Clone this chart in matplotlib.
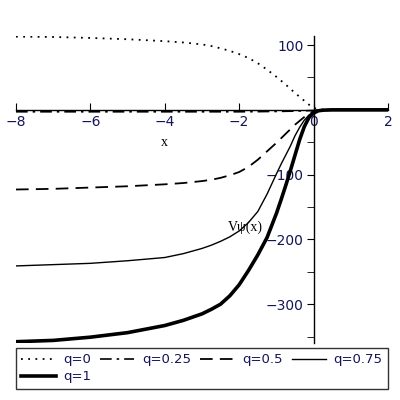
import numpy as np
import matplotlib
matplotlib.use("Agg")
import matplotlib.pyplot as plt
from matplotlib.ticker import MultipleLocator

# sample points
x = [-8, -7, -6, -5, -4, -3.5, -3, -2.75, -2.5, -2.25, -2, -1.75, -1.5, -1.25, -1,
     -0.875, -0.75, -0.625, -0.5, -0.375, -0.25, -0.125, 0, 0.125, 0.25, 0.5, 1, 1.5, 2]
v_q0 = [113, 112.5, 111, 109, 106, 104, 101, 98.5, 95, 91, 86, 80, 72, 62, 51,
        45, 39, 32.5, 26, 20, 14, 8, 3, 1, 0.3, 0, 0, 0, 0]
v_q025 = [-3, -3, -3, -3, -3, -3, -3, -3, -3, -3, -3, -2.9, -2.8, -2.6, -2.5,
          -2.4, -2.2, -2.1, -2, -1.8, -1.5, -1.2, -1, -0.5, -0.2, 0, 0, 0, 0]
v_q05 = [-123, -122, -120, -118, -115, -113, -110, -108, -105, -101, -96, -88, -77, -64, -51,
         -44, -37, -30, -23, -17, -11, -6, -2, -0.5, -0.2, 0, 0, 0, 0]
v_q075 = [-241, -239, -237, -233, -228, -222, -214, -209, -203, -196, -187, -174, -157, -130, -99,
          -84, -70, -56, -40, -27, -16, -8, -3, -1, -0.3, 0, 0, 0, 0]
v_q1 = [-358, -356, -351, -344, -333, -325, -315, -308, -300, -287, -270, -248, -224, -197, -160,
        -139, -117, -94, -70, -46, -26, -12, -5, -1.5, -0.5, 0, 0, 0, 0]

labels = ["q=0", "q=0.25", "q=0.5", "q=0.75", "q=1"]

tick_col = "#14145a"

fig = plt.figure(figsize=(4, 4), dpi=100)
ax = fig.add_axes([0.04, 0.1425, 0.93, 0.7675])

h0, = ax.plot(x, v_q0, color="black", lw=1.3, linestyle=(0, (1, 3)))
h1, = ax.plot(x, v_q025, color="black", lw=1.2, linestyle=(0, (7, 3, 1.5, 3)))
h2, = ax.plot(x, v_q05, color="black", lw=1.3, linestyle=(0, (7, 4)))
h3, = ax.plot(x, v_q075, color="black", lw=1.0)
h4, = ax.plot(x, v_q1, color="black", lw=2.6)

ax.set_xlim(-8, 2)
ax.set_ylim(-360, 114)

for s in ["top", "right"]:
    ax.spines[s].set_visible(False)
ax.spines["left"].set_position(("data", 0))
ax.spines["bottom"].set_position(("data", 0))
ax.spines["left"].set_linewidth(1)
ax.spines["bottom"].set_linewidth(1)

ax.set_xticks([-8, -6, -4, -2, 0, 2])
ax.set_xticklabels(["\u22128", "\u22126", "\u22124", "\u22122", "0", "2"])
ax.set_yticks([-300, -200, -100, 100])
ax.set_yticklabels(["\u2212300", "\u2212200", "\u2212100", "100"])
ax.yaxis.set_minor_locator(MultipleLocator(50))
ax.tick_params(axis="both", which="both", colors="black", labelcolor=tick_col,
               labelsize=10)
ax.tick_params(axis="x", direction="in", length=5, pad=4)
ax.tick_params(axis="y", direction="out", length=5, pad=2)
ax.tick_params(axis="y", which="minor", direction="out", length=5)

ax.text(-4.0, -51, "x", fontsize=10, family="Liberation Serif", color="black",
        ha="center", va="center")
ax.text(-1.84, -181, "V\u03c8(x)", fontsize=10, family="Liberation Serif",
        color="black", ha="center", va="center")

leg = fig.legend([h0, h4, h1, h2, h3],
                 [labels[0], labels[4], labels[1], labels[2], labels[3]],
                 ncol=4, loc="upper left", bbox_to_anchor=(0.04, 0.02, 0.93, 0.11),
                 mode="expand", fontsize=9.5, frameon=True, fancybox=False,
                 edgecolor="black", borderpad=0.4, handlelength=2.6,
                 handletextpad=0.6, columnspacing=0.5, labelspacing=0.3,
                 borderaxespad=0)
leg.get_frame().set_linewidth(1)
for t in leg.get_texts():
    t.set_color(tick_col)

fig.savefig("out.png", dpi=100)
